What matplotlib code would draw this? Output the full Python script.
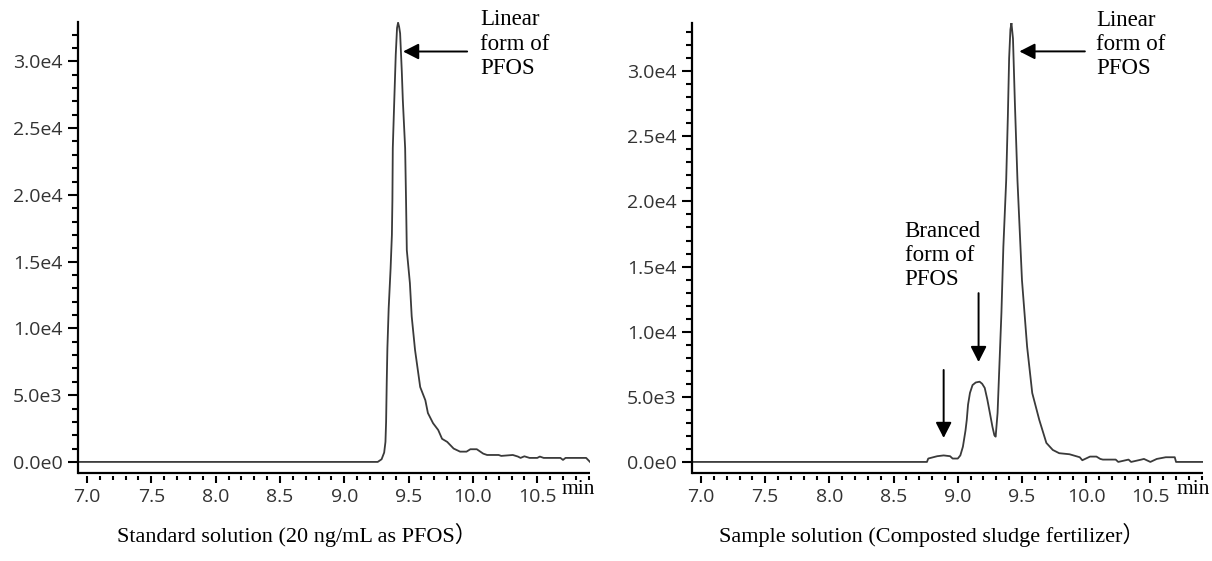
import matplotlib
matplotlib.use("Agg")
import matplotlib.pyplot as plt
from matplotlib.ticker import MultipleLocator, FixedLocator, FixedFormatter

# standard solution chromatogram (min, counts)
std_time = [6.93, 9.26, 9.29, 9.31, 9.32, 9.325, 9.33, 9.335, 9.345, 9.36, 9.37, 9.374,
            9.377, 9.385, 9.39, 9.40, 9.41, 9.418, 9.426, 9.434, 9.447, 9.455, 9.473,
            9.48, 9.486, 9.51, 9.524, 9.55, 9.59, 9.63, 9.65, 9.69, 9.73, 9.76, 9.80,
            9.85, 9.90, 9.95, 9.98, 10.03, 10.08, 10.11, 10.20, 10.22, 10.31, 10.35,
            10.37, 10.40, 10.44, 10.50, 10.52, 10.55, 10.68, 10.70, 10.72, 10.88, 10.91]
std_signal = [0, 0, 200, 700, 1500, 3000, 6000, 8500, 11500, 14500, 17000, 19600,
              23500, 26000, 27500, 30500, 32500, 32900, 32600, 32100, 29250, 27100, 23500,
              19600, 15860, 13390, 10900, 8380, 5610, 4620, 3660, 2900, 2390, 1730, 1500,
              1000, 770, 770, 950, 950, 620, 520, 520, 450, 520, 400,
              300, 420, 300, 300, 400, 300, 300, 150, 300, 300, 0]

# sample solution chromatogram (min, counts)
smp_time = [6.93, 8.76, 8.77, 8.84, 8.89, 8.94, 8.96, 9.00, 9.02, 9.04, 9.06, 9.07,
            9.08, 9.095, 9.115, 9.14, 9.17, 9.19, 9.21, 9.23, 9.25, 9.27, 9.285, 9.295,
            9.31, 9.34, 9.355, 9.377, 9.39, 9.40, 9.41, 9.418, 9.43, 9.445, 9.465, 9.50,
            9.54, 9.58, 9.635, 9.69, 9.74, 9.79, 9.87, 9.95, 9.97, 10.03, 10.08, 10.11,
            10.13, 10.23, 10.25, 10.33, 10.35, 10.43, 10.45, 10.50, 10.55, 10.62, 10.69,
            10.70, 10.91]
smp_signal = [0, 0, 260, 440, 500, 440, 260, 260, 500, 1170, 2400, 3220,
              4400, 5300, 5900, 6100, 6160, 6000, 5680, 4800, 3760, 2700, 2050, 1940,
              3760, 11440, 16500, 21600, 26500, 31000, 33200, 33700, 32500, 27500, 21600, 13960,
              8850, 5290, 3220, 1460, 920, 670, 590, 360, 130, 410, 410, 230,
              180, 180, 0, 180, 0, 180, 230, 0, 230, 360, 360,
              0, 0]

y_ticks = [0, 5000, 10000, 15000, 20000, 25000, 30000]
y_tick_labels = ["0.0e0", "5.0e3", "1.0e4", "1.5e4", "2.0e4", "2.5e4", "3.0e4"]
x_ticks = [7.0, 7.5, 8.0, 8.5, 9.0, 9.5, 10.0, 10.5]
x_tick_labels = ["7.0", "7.5", "8.0", "8.5", "9.0", "9.5", "10.0", "10.5"]

W, H = 1212, 561
fig = plt.figure(figsize=(W / 100, H / 100), dpi=100)

serif = ["Liberation Serif", "Noto Sans CJK JP"]
tick_font = "Open Sans"
ink = "#333333"


def px(x, y):
    return x / W, 1 - y / H


def setup(ax, ymin, ymax):
    ax.set_xlim(6.93, 10.91)
    ax.set_ylim(ymin, ymax)
    for s in ["top", "right"]:
        ax.spines[s].set_visible(False)
    ax.spines["left"].set_linewidth(1.6)
    # ticks hang a little below the x axis line
    ax.spines["bottom"].set_position(("outward", 2.4))
    ax.spines["bottom"].set_visible(False)
    ax.plot([0, 1], [0, 0], transform=ax.transAxes, color="black", lw=1.6,
            clip_on=False, solid_capstyle="butt")
    ax.yaxis.set_major_locator(FixedLocator(y_ticks))
    ax.yaxis.set_major_formatter(FixedFormatter(y_tick_labels))
    ax.yaxis.set_minor_locator(MultipleLocator(1000))
    ax.xaxis.set_major_locator(FixedLocator(x_ticks))
    ax.xaxis.set_major_formatter(FixedFormatter(x_tick_labels))
    ax.xaxis.set_minor_locator(MultipleLocator(0.1))
    ax.tick_params(axis="y", which="major", length=7.2, width=1.5, pad=4, labelsize=14,
                   labelcolor=ink)
    ax.tick_params(axis="y", which="minor", length=4.0, width=1.5)
    ax.tick_params(axis="x", which="major", length=4.7, width=1.5, pad=4, labelsize=14,
                   labelcolor=ink)
    ax.tick_params(axis="x", which="minor", length=2.7, width=1.5)
    for lab in ax.get_xticklabels() + ax.get_yticklabels():
        lab.set_fontfamily(tick_font)


ax1 = fig.add_axes([78 / W, 1 - 473 / H, 512 / W, 451 / H])
setup(ax1, -830, 32950)
ax1.plot(std_time, std_signal, color="#3a3a3a", lw=1.3)

ax2 = fig.add_axes([692 / W, 1 - 473 / H, 511 / W, 450 / H])
setup(ax2, -850, 33700)
ax2.plot(smp_time, smp_signal, color="#3a3a3a", lw=1.3)

arrow = dict(arrowstyle="-|>,head_length=0.47,head_width=0.24", mutation_scale=20,
             color="black", lw=1.4, shrinkA=0, shrinkB=0)

ax1.annotate("", xy=(9.457, 30740), xytext=(9.955, 30740), arrowprops=arrow)
ax1.text(10.056, 33900, "Linear\nform of\nPFOS", family=serif, fontsize=16.5,
         va="top", ha="left", linespacing=1.2)

ax2.annotate("", xy=(9.48, 31520), xytext=(9.99, 31520), arrowprops=arrow)
ax2.text(10.08, 34700, "Linear\nform of\nPFOS", family=serif, fontsize=16.5,
         va="top", ha="left", linespacing=1.2)

ax2.text(8.586, 18500, "Branced\nform of\nPFOS", family=serif, fontsize=16.5,
         va="top", ha="left", linespacing=1.2)
ax2.annotate("", xy=(9.162, 7670), xytext=(9.162, 12960), arrowprops=arrow)
ax2.annotate("", xy=(8.89, 1840), xytext=(8.89, 7060), arrowprops=arrow)

fig.text(*px(578, 489), "min", family=serif, fontsize=15.5, ha="center", va="center")
fig.text(*px(1193, 489), "min", family=serif, fontsize=15.5, ha="center", va="center")

fig.text(*px(297, 535), "Standard solution (20 ng/mL as PFOS）", family=serif,
         fontsize=16, ha="center", va="center")
fig.text(*px(932, 535), "Sample solution (Composted sludge fertilizer）", family=serif,
         fontsize=16, ha="center", va="center")

fig.savefig("out.png", dpi=100)
